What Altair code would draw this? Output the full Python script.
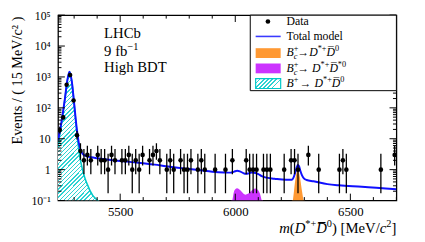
import altair as alt
import pandas as pd
import numpy as np

# ---------------- data ----------------
mass_lo, mass_hi, bin_w = 5230, 6700, 15
counts = [19, 49, 560, 1150, 173, 13, 4, 2, 3, 2,
          0, 3, 2, 2, 1, 3, 2, 0, 2, 2,
          3, 1, 2, 1, 3, 0, 2, 3, 4, 2,
          0, 1, 2, 1, 0, 2, 1, 1, 2, 0,
          1, 2, 1, 0, 0, 1, 0, 0, 1, 0,
          2, 0, 0, 0, 2, 1, 1, 1, 0, 1,
          1, 1, 0, 0, 0, 1, 0, 2, 2, 1,
          0, 0, 3, 0, 0, 1, 0, 0, 0, 0,
          0, 1, 2, 1, 0, 0, 0, 0, 0, 0,
          0, 0, 0, 1, 0, 0, 0, 3]

total_m = [5230, 5240, 5250, 5260, 5270, 5280, 5290, 5300, 5310, 5320, 5330, 5340,
           5350, 5375, 5400, 5450, 5500, 5550, 5600, 5650, 5700, 5750, 5800, 5850,
           5900, 5950, 5980, 5995, 6008, 6020, 6035, 6045, 6060, 6072, 6088, 6100,
           6115, 6130, 6170, 6220, 6245, 6255, 6262, 6267, 6272, 6277, 6283, 6290,
           6298, 6310, 6340, 6400, 6450, 6550, 6700]
total_v = [9, 21, 60, 200, 740, 1480, 700, 140, 26, 7.5, 4.0, 3.1,
           2.8, 2.5, 2.35, 2.1, 1.9, 1.75, 1.6, 1.45, 1.28, 1.15, 1.05, 0.95,
           0.86, 0.81, 0.8, 0.86, 0.92, 0.88, 0.77, 0.73, 0.76, 0.81, 0.78, 0.72,
           0.62, 0.56, 0.51, 0.47, 0.47, 0.6, 0.9, 1.2, 1.42, 1.3, 0.9, 0.65,
           0.52, 0.46, 0.42, 0.34, 0.31, 0.28, 0.23]

bplus_m = [5230, 5240, 5250, 5260, 5270, 5280, 5290, 5300, 5310, 5320, 5327, 5335,
           5348, 5360, 5370, 5380, 5391, 5402, 5410]
bplus_v = [6, 17, 57, 197, 737, 1477, 697, 137, 22, 4.5, 2.1, 1.1,
           0.5, 0.3, 0.2, 0.15, 0.12, 0.1, 0.09]

dd_m = [6246, 6250, 6255, 6260, 6265, 6271, 6277, 6283, 6290, 6297, 6302]
dd_v = [0.08, 0.1, 0.2, 0.42, 0.72, 1.0, 0.78, 0.45, 0.2, 0.1, 0.07]

dds_m = [5983, 5987, 5994, 6000, 6008, 6023, 6035, 6044, 6055, 6065, 6078, 6087,
         6095, 6100, 6108, 6115, 6120]
dds_v = [0.08, 0.1, 0.19, 0.23, 0.25, 0.21, 0.17, 0.155, 0.165, 0.19, 0.23, 0.245,
         0.23, 0.21, 0.16, 0.1, 0.08]

x_major = [5500, 6000, 6500]
x_minor = [5300, 5400, 5600, 5700, 5800, 5900, 6100, 6200, 6300, 6400, 6600, 6700]
y_major = [0.1, 1, 10, 100, 1000, 10000, 100000]
y_minor = [m * 10.0 ** k for k in range(-1, 5) for m in range(2, 10)]

# ---------------- layout ----------------
W, H = 345, 189
SERIF = "Liberation Serif"
BLUE = "#1010ff"
ORANGE = "#ff9933"
MAGENTA = "#cc33ff"
CYAN = "#00c8c8"
HATCH = "#2ed3d3"

centers = [mass_lo + bin_w * (i + 0.5) for i in range(len(counts))]
pts = pd.DataFrame({"m": centers, "n": counts})
pts = pts[pts.n > 0].copy()
n = pts.n.astype(float)
pts["lo"] = n * (1 - 1 / (9 * n) - 1 / (3 * np.sqrt(n))) ** 3
n1 = n + 1
pts["hi"] = n1 * (1 - 1 / (9 * n1) + 1 / (3 * np.sqrt(n1))) ** 3

xs = alt.Scale(domain=[mass_lo, mass_hi], nice=False, zero=False)
ys = alt.Scale(type="log", domain=[0.1, 1e5], nice=False)


def ypix(v):
    return H * (5 - np.log10(v)) / 6.0


def hatch(wpx, hpx, period=4.2, frac=0.34):
    L = wpx + hpx * hpx / wpx
    N = max(1, int(round(L / period)))
    stops = []
    for k in range(N):
        a, b, c = k / N, (k + frac) / N, (k + 1) / N
        stops += [alt.GradientStop(color=HATCH, offset=a), alt.GradientStop(color=HATCH, offset=b),
                  alt.GradientStop(color="#ffffff", offset=b), alt.GradientStop(color="#ffffff", offset=c)]
    return alt.LinearGradient(gradient="linear", stops=stops, x1=0, y1=0, x2=1, y2=hpx / wpx)


ylab = ("datum.value < 0.5 ? '10⁻¹' : datum.value < 5 ? '1' : datum.value < 50 ? '10' : "
        "datum.value < 500 ? '10²' : datum.value < 5000 ? '10³' : datum.value < 50000 ? '10⁴' : '10⁵'")
xaxis = alt.Axis(values=x_major, ticks=False, domain=False, grid=False, labelFont=SERIF,
                 labelFontSize=13, labelPadding=5, labelColor="black", title=None, format="d")
yaxis = alt.Axis(values=y_major, ticks=False, domain=False, grid=False, labelFont=SERIF,
                 labelFontSize=12, labelPadding=8, labelColor="black", labelExpr=ylab,
                 title="Events / ( 15 MeV/c² )", titleFont=SERIF, titleFontSize=14.5,
                 titleFontWeight="normal", titleColor="black", titleX=-37, titleY=1,
                 titleAngle=270, titleAlign="right", titleBaseline="alphabetic")

X = lambda: alt.X("m:Q", scale=xs, axis=xaxis)
Y = lambda f="v": alt.Y(f + ":Q", scale=ys, axis=yaxis)

bp = pd.DataFrame({"m": bplus_m, "v": bplus_v, "base": 0.1})
bw = (max(bplus_m) - min(bplus_m)) * W / (mass_hi - mass_lo)
bh = ypix(0.1) - ypix(max(bplus_v))

cyan_area = alt.Chart(bp).mark_area(fill=hatch(bw, bh), interpolate="monotone", clip=True).encode(
    x=X(), y=Y(), y2="base:Q")
cyan_line = alt.Chart(bp).mark_line(color=CYAN, strokeWidth=1.6, interpolate="monotone", clip=True).encode(
    x=X(), y=Y())
dds = pd.DataFrame({"m": dds_m, "v": dds_v, "base": 0.1})
mag_area = alt.Chart(dds).mark_area(color=MAGENTA, interpolate="monotone", clip=True).encode(
    x=X(), y=Y(), y2="base:Q")
dd = pd.DataFrame({"m": dd_m, "v": dd_v, "base": 0.1})
orng_area = alt.Chart(dd).mark_area(color=ORANGE, interpolate="monotone", clip=True).encode(
    x=X(), y=Y(), y2="base:Q")
tot = pd.DataFrame({"m": total_m, "v": total_v})
tot_line = alt.Chart(tot).mark_line(color=BLUE, strokeWidth=2, interpolate="monotone", clip=True).encode(
    x=X(), y=Y())

err = alt.Chart(pts).mark_rule(color="black", strokeWidth=1.3, clip=True).encode(
    x=X(), y=Y("lo"), y2="hi:Q")
dots = alt.Chart(pts).mark_circle(color="black", size=22, opacity=1, clip=True).encode(
    x=X(), y=Y("n"))

# ---------------- ticks (ROOT style, inside, four sides) ----------------
tick_layers = []
for vals, ln in [(x_major, 7), (x_minor, 3.5)]:
    d = pd.DataFrame({"m": vals})
    tick_layers.append(alt.Chart(d).mark_rule(color="black", strokeWidth=1).encode(
        x=X(), y=alt.value(H), y2=alt.value(H - ln)))
    tick_layers.append(alt.Chart(d).mark_rule(color="black", strokeWidth=1).encode(
        x=X(), y=alt.value(0), y2=alt.value(ln)))
for vals, ln in [(y_major, 7), (y_minor, 3.5)]:
    d = pd.DataFrame({"v": vals})
    tick_layers.append(alt.Chart(d).mark_rule(color="black", strokeWidth=1).encode(
        y=Y(), x=alt.value(0), x2=alt.value(ln)))
    tick_layers.append(alt.Chart(d).mark_rule(color="black", strokeWidth=1).encode(
        y=Y(), x=alt.value(W), x2=alt.value(W - ln)))

# ---------------- text pieces ----------------
WREG = {' ': 250, '(': 333, ')': 333, '[': 333, ']': 333, '/': 278, '*': 500, '+': 564,
        '0': 500, '1': 500, '2': 500, '9': 500, 'M': 889, 'e': 444, 'V': 722, 'D': 722,
        'B': 667, 'c': 444, 'm': 778, '→': 1000, '−': 564, 'f': 333, 'b': 500}
WIT = {'m': 722, 'D': 722, 'B': 611, 'c': 444, '(': 333}


def tw(s, it, size):
    tab = WIT if it else WREG
    return sum(tab.get(ch, WREG.get(ch, 0 if ch == '\u0305' else 500)) for ch in s) * size / 1000.0


one = pd.DataFrame({"a": [0]})
text_layers = []


def place(pieces, x0, base, size, right=None):
    # piece: (text, italic, scale, dy_em, advance)
    total = 0
    for t, it, sc, dy, adv in pieces:
        if adv:
            total += tw(t, it, size * sc)
    x = x0 if right is None else right - total
    for t, it, sc, dy, adv in pieces:
        text_layers.append(alt.Chart(one).mark_text(
            align="left", baseline="alphabetic", font=SERIF, fontSize=size * sc,
            fontStyle="italic" if it else "normal", color="black").encode(
            x=alt.value(x), y=alt.value(base + dy * size), text=alt.value(t)))
        if adv:
            x += tw(t, it, size * sc)


SUP, SUB = -0.42, 0.25
OL = "D\u0305"
place([("m", 1, 1, 0, 1), ("(", 0, 1, 0, 1), ("D", 1, 1, 0, 1), ("*+", 0, 0.7, SUP, 1),
       (OL, 1, 1, 0, 1), ("0", 0, 0.7, SUP, 1), (") [MeV/", 0, 1, 0, 1), ("c", 1, 1, 0, 1),
       ("2", 0, 0.7, SUP, 1), ("]", 0, 1, 0, 1)], 0, 222, 15, right=W)

place([("LHCb", 0, 1, 0, 1)], 47, 23, 15)
place([("9 fb", 0, 1, 0, 1), ("−1", 0, 0.7, -0.45, 1)], 47, 42, 15)
place([("High BDT", 0, 1, 0, 1)], 47, 58, 15)

LX, LS = 233, 12
place([("Data", 0, 1, 0, 1)], LX, 10.5, LS)
place([("Total model", 0, 1, 0, 1)], LX, 25.8, LS)
bc = [("B", 1, 1, 0, 1), ("+", 0, 0.7, SUP, 0), ("c", 1, 0.7, SUB, 1)]
place(bc + [("→", 0, 1, 0, 1), ("D", 1, 1, 0, 1), ("*+", 0, 0.7, SUP, 1), (OL, 1, 1, 0, 1),
            ("0", 0, 0.7, SUP, 1)], LX, 42, LS)
place(bc + [("→ ", 0, 1, 0, 1), ("D", 1, 1, 0, 1), ("*+", 0, 0.7, SUP, 1), (OL, 1, 1, 0, 1),
            ("*0", 0, 0.7, SUP, 1)], LX, 57.7, LS)
place([("B", 1, 1, 0, 1), ("+", 0, 0.7, SUP, 1), (" ", 0, 0.5, 0, 1), ("→ ", 0, 1, 0, 1),
       ("D", 1, 1, 0, 1), ("*+", 0, 0.7, SUP, 1), (OL, 1, 1, 0, 1), ("0", 0, 0.7, SUP, 1)],
      LX, 73, LS)

# ---------------- legend ----------------
leg = [
    alt.Chart(one).mark_rect(fill="white", stroke="black", strokeWidth=1).encode(
        x=alt.value(196), x2=alt.value(W), y=alt.value(0), y2=alt.value(77)),
    alt.Chart(one).mark_circle(color="black", size=22, opacity=1).encode(
        x=alt.value(214), y=alt.value(6.5)),
    alt.Chart(one).mark_rule(color="#3a3aff", strokeWidth=1.6).encode(
        x=alt.value(201.5), x2=alt.value(227), y=alt.value(21.7)),
    alt.Chart(one).mark_rect(color=ORANGE).encode(
        x=alt.value(201.5), x2=alt.value(227), y=alt.value(33.7), y2=alt.value(43.7)),
    alt.Chart(one).mark_rect(color=MAGENTA).encode(
        x=alt.value(201.5), x2=alt.value(227), y=alt.value(49.3), y2=alt.value(59.3)),
    alt.Chart(one).mark_rect(fill=hatch(25.5, 10), stroke=CYAN, strokeWidth=1.2).encode(
        x=alt.value(201.5), x2=alt.value(227), y=alt.value(64.8), y2=alt.value(74.8)),
]

chart = alt.layer(cyan_area, cyan_line, mag_area, orng_area, tot_line, err, dots,
                  *tick_layers, *leg, *text_layers).properties(
    width=W, height=H, autosize="none",
    padding={"left": 51, "top": 5, "right": 21, "bottom": 40},
    background="white",
).configure_view(stroke="black", strokeWidth=1.3)

chart.save("out.html", embed_options={"renderer": "svg", "actions": False})
